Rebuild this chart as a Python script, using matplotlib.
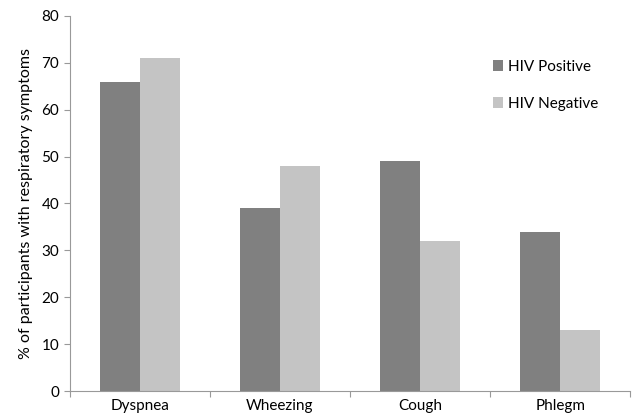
import matplotlib.pyplot as plt
import numpy as np

plt.rcParams['font.family'] = ['Lato', 'DejaVu Sans']

categories = ["Dyspnea", "Wheezing", "Cough", "Phlegm"]
hiv_positive = [66, 39, 49, 34]
hiv_negative = [71, 48, 32, 13]
yticks = [0, 10, 20, 30, 40, 50, 60, 70, 80]

fig = plt.figure(figsize=(6.34, 4.2), dpi=100)
ax = fig.add_axes([0.110, 0.069, 0.884, 0.893])

x = np.arange(len(categories))
w = 0.286
ax.bar(x - w / 2, hiv_positive, w, color="#808080", label="HIV Positive")
ax.bar(x + w / 2, hiv_negative, w, color="#c4c4c4", label="HIV Negative")

ax.set_xlim(-0.5, len(categories) - 0.5)
ax.set_ylim(0, 80)
ax.set_yticks(yticks)
ax.set_xticks(np.arange(len(categories) + 1) - 0.5)
ax.set_xticklabels([])
ax.set_xticks(x, minor=True)
ax.set_xticklabels(categories, minor=True)
ax.tick_params(axis="x", which="minor", length=0, labelsize=11, pad=6)
ax.tick_params(axis="x", which="major", length=4, color="#999999", direction="out")
ax.tick_params(axis="y", length=4, color="#999999", labelsize=11)

for s in ["top", "right"]:
    ax.spines[s].set_visible(False)
for s in ["left", "bottom"]:
    ax.spines[s].set_color("#999999")

ax.set_ylabel("% of participants with respiratory symptoms", fontsize=11.5,
              labelpad=6)

ax.legend(loc="upper left", bbox_to_anchor=(0.73, 0.92), frameon=False,
          handlelength=0.7, handleheight=0.7, handletextpad=0.3,
          labelspacing=1.5, fontsize=11)

fig.savefig("out.png", dpi=100)
